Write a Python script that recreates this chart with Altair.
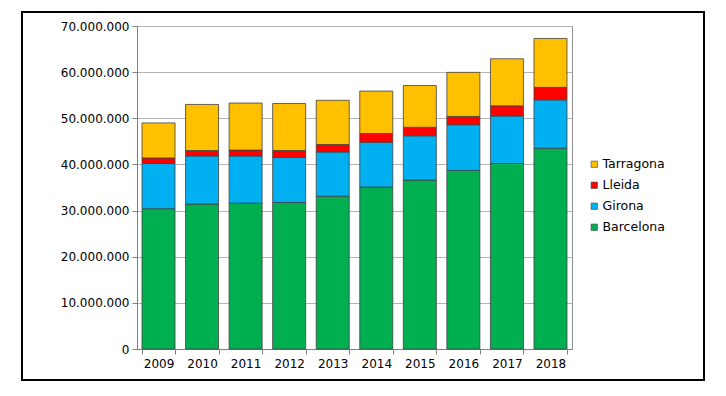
import altair as alt
import pandas as pd

years = ["2009", "2010", "2011", "2012", "2013", "2014", "2015", "2016", "2017", "2018"]
barcelona = [30.4, 31.4, 31.6, 31.75, 33.1, 35.1, 36.6, 38.7, 40.2, 43.5]
girona = [9.8, 10.45, 10.25, 9.75, 9.6, 9.7, 9.6, 9.9, 10.3, 10.5]
lleida = [1.2, 1.15, 1.25, 1.5, 1.6, 1.9, 1.85, 1.8, 2.2, 2.7]
tarragona = [7.6, 10.0, 10.2, 10.2, 9.6, 9.2, 9.05, 9.55, 10.2, 10.6]

series = ["Barcelona", "Girona", "Lleida", "Tarragona"]
values = [barcelona, girona, lleida, tarragona]

rows = []
for si, (name, vals) in enumerate(zip(series, values)):
    for y, v in zip(years, vals):
        rows.append({"year": y, "prov": name, "ord": si, "value": v * 1_000_000})
df = pd.DataFrame(rows)

legend_order = ["Tarragona", "Lleida", "Girona", "Barcelona"]
legend_colors = ["#FFC000", "#FF0000", "#00B0F0", "#00B050"]

bars = alt.Chart(df).mark_bar(stroke="#404040", strokeWidth=0.8).encode(
    x=alt.X("year:N", title=None,
            scale=alt.Scale(paddingInner=0.242, paddingOuter=0.115),
            axis=alt.Axis(labelAngle=0, tickBand="extent", labelFontSize=12,
                          labelColor="#000", domainColor="#808080", tickColor="#808080",
                          tickSize=5, labelPadding=4)),
    y=alt.Y("value:Q", title=None, stack="zero",
            scale=alt.Scale(domain=[0, 70_000_000], nice=False),
            axis=alt.Axis(values=[0, 10e6, 20e6, 30e6, 40e6, 50e6, 60e6, 70e6],
                          labelExpr="replace(replace(format(datum.value, ','), ',', '.'), ',', '.')",
                          labelFontSize=12, labelColor="#000", domainColor="#808080",
                          tickColor="#808080", tickSize=5, gridColor="#b4b4b4",
                          labelPadding=3)),
    color=alt.Color("prov:N", sort=legend_order,
                    scale=alt.Scale(domain=legend_order, range=legend_colors),
                    legend=alt.Legend(title=None, orient="none", legendX=451, legendY=132,
                                      symbolType="square", symbolSize=40,
                                      symbolStrokeColor="#404040", symbolStrokeWidth=0.6,
                                      labelOffset=2, labelFontSize=12.5, labelColor="#000",
                                      rowPadding=8)),
    order=alt.Order("ord:Q", sort="ascending"),
)

frame = alt.Chart(pd.DataFrame({"a": [0]})).mark_rect(
    fill=None, stroke="#000", strokeWidth=2
).encode(x=alt.value(-115), x2=alt.value(567), y=alt.value(-14), y2=alt.value(354))

chart = alt.layer(bars, frame).properties(
    width=435, height=323,
    autosize=alt.AutoSizeParams(type="none"),
    padding={"left": 129, "top": 18, "right": 146, "bottom": 39},
).configure(font="DejaVu Sans").configure_view(stroke="#909090")

chart.save("out.html", embed_options={"renderer": "svg", "actions": False})
